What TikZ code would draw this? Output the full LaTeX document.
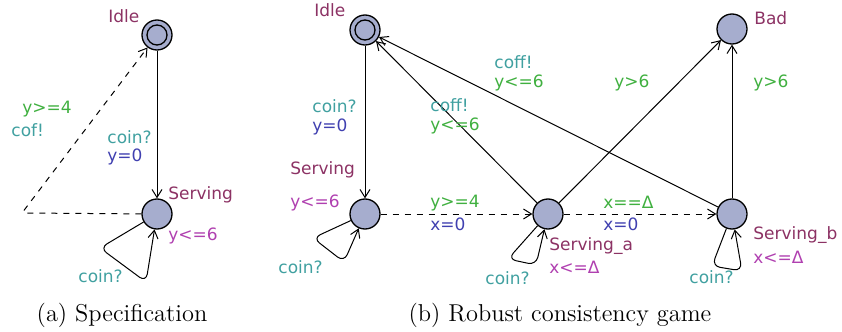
\documentclass[tikz,border=0pt]{standalone}
\usepackage{fontspec}
\newfontfamily\uppaal{DejaVu Sans}
\usetikzlibrary{arrows.meta}
\definecolor{locfill}{RGB}{166,173,206}
\definecolor{locname}{RGB}{140,50,100}
\definecolor{invcol}{RGB}{176,64,176}
\definecolor{synccol}{RGB}{64,160,160}
\definecolor{guardcol}{RGB}{64,176,64}
\definecolor{assigncol}{RGB}{64,64,176}
\tikzset{
  loc/.style={circle,draw,fill=locfill,minimum size=15pt,inner sep=0pt,line width=0.65pt},
  init/.style={loc,path picture={\draw[line width=0.65pt] (path picture bounding box.center) circle (5pt);}},
  edge/.style={line width=0.5pt,-{Straight Barb[length=4pt,width=5pt]}},
  loopedge/.style={edge,rounded corners=4pt},
  lab/.style={font=\uppaal\fontsize{8.5}{10}\selectfont,inner sep=0pt,anchor=west},
  lname/.style={lab,text=locname},
  inv/.style={lab,text=invcol},
  sync/.style={lab,text=synccol},
  guard/.style={lab,text=guardcol},
  assign/.style={lab,text=assigncol},
  subcap/.style={font=\fontsize{12.2}{14}\selectfont,inner sep=0pt}
}
\begin{document}
\begin{tikzpicture}[x=0.5pt,y=-0.5pt]
\useasboundingbox (0,0) rectangle (842,332);
% (a) specification
\node[init] (idleA) at (157,35) {};
\node[loc] (servA) at (157,214) {};
\coordinate (bendA) at (22,213);
\coordinate (loopA1) at (100,248);
\coordinate (loopA2) at (146,282);
\draw[edge] (idleA) -- (servA);
\draw[edge,dashed,rounded corners=1.5pt] (servA) -- (bendA) -- (idleA);
\draw[loopedge] (servA) -- (loopA1) -- (loopA2) -- (servA);
\node[lname] (nIdleA) at (108,16) {Idle};
\node[lname] (nServA) at (168,195) {Serving};
\node[inv] (iServA) at (168,236) {y<=6};
\node[sync] (sCoinA) at (107,137) {coin?};
\node[assign] (aCoinA) at (107,157) {y=0};
\node[guard] (gCofA) at (22,109) {y>=4};
\node[sync] (sCofA) at (11,130) {cof!};
\node[sync] (sLoopA) at (78,276) {coin?};
\node[subcap] (capA) at (122,315) {(a) Specification};
% (b) robust consistency game
\node[init] (idleB) at (365,30) {};
\node[loc] (servB) at (365,214) {};
\node[loc] (servBa) at (548,214) {};
\node[loc] (servBb) at (732,214) {};
\node[loc] (bad) at (732,29) {};
\coordinate (loopB1) at (313,238);
\coordinate (loopB2) at (344,262);
\coordinate (loopBa1) at (508,259);
\coordinate (loopBa2) at (536,265);
\coordinate (loopBb1) at (712,266);
\coordinate (loopBb2) at (742,271);
\draw[edge] (idleB) -- (servB);
\draw[edge,dashed] (servB) -- (servBa);
\draw[edge,dashed] (servBa) -- (servBb);
\draw[edge] (servBa) -- (idleB);
\draw[edge] (servBb) -- (idleB);
\draw[edge] (servBa) -- (bad);
\draw[edge] (servBb) -- (bad);
\draw[loopedge] (servB) -- (loopB1) -- (loopB2) -- (servB);
\draw[loopedge] (servBa) -- (loopBa1) -- (loopBa2) -- (servBa);
\draw[loopedge] (servBb) -- (loopBb1) -- (loopBb2) -- (servBb);
\node[lname] (nIdleB) at (314,10) {Idle};
\node[lname] (nServB) at (290,170) {Serving};
\node[inv] (iServB) at (290,203) {y<=6};
\node[lname] (nServBa) at (549,246) {Serving\_a};
\node[inv] (iServBa) at (549,267) {x<=Δ};
\node[lname] (nServBb) at (753,235) {Serving\_b};
\node[inv] (iServBb) at (753,257) {x<=Δ};
\node[lname] (nBad) at (754,18) {Bad};
\node[sync] (sCoinB) at (312,106) {coin?};
\node[assign] (aCoinB) at (312,127) {y=0};
\node[sync] (sCoffBa) at (430,105) {coff!};
\node[guard] (gCoffBa) at (430,126) {y<=6};
\node[sync] (sCoffBb) at (494,62) {coff!};
\node[guard] (gCoffBb) at (494,83) {y<=6};
\node[guard] (gBadA) at (614,83) {y>6};
\node[guard] (gBadB) at (753,83) {y>6};
\node[guard] (gServBa) at (430,203) {y>=4};
\node[assign] (aServBa) at (430,224) {x=0};
\node[guard] (gServBb) at (603,202) {x==Δ};
\node[assign] (aServBb) at (603,224) {x=0};
\node[sync] (sLoopB) at (278,267) {coin?};
\node[sync] (sLoopBa) at (485,278) {coin?};
\node[sync] (sLoopBb) at (689,277) {coin?};
\node[subcap] (capB) at (560,315) {(b) Robust consistency game};
\end{tikzpicture}
\end{document}
